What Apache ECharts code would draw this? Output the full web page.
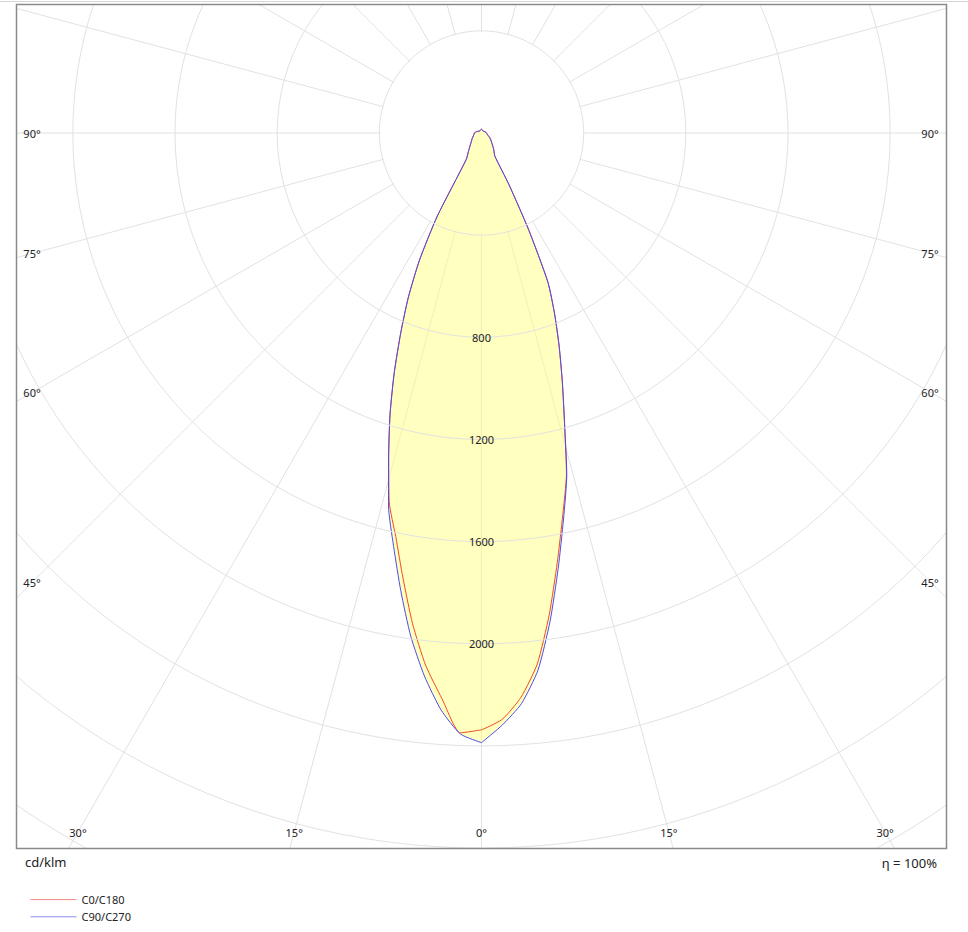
<!DOCTYPE html>
<html>
<head>
<meta charset="utf-8">
<script src="https://cdn.jsdelivr.net/npm/echarts@6/dist/echarts.min.js"></script>
<style>
html,body{margin:0;padding:0;background:#fff;}
#chart{width:968px;height:932px;}
</style>
</head>
<body>
<div id="chart"></div>
<script>
// ---- data (cd/klm) ----
const gammaAngles = [0,2,4,6,8,10,12,14,16,18,20,22,24,26,28,30,35,40,45,50,60,70,80,90,105,120,135,150,165,180];
const c0Values   = [2337,2298,2215,2090,1905,1708,1530,1375,1178,1023,888,763,638,418,228,104,85,70,58,50,38,27,22,20,16,12,10,10,12,15];
const c180Values = [2337,2350,2220,2095,1940,1770,1615,1492,1318,1158,998,843,703,553,368,118,90,72,60,52,42,34,30,28,20,14,11,11,13,15];
const c90Values  = [2387,2320,2240,2115,1930,1730,1545,1380,1180,1025,890,765,640,420,230,105,85,70,58,50,38,27,22,20,16,12,10,10,12,15];
const c270Values = [2387,2355,2265,2138,1990,1820,1655,1505,1320,1160,1000,845,705,555,370,120,90,72,60,52,42,34,30,28,20,14,11,11,13,15];
const seriesNames = ['C0/C180','C90/C270'];
const ringLabels = [800,1200,1600,2000];
const sideAngleLabels = [90,75,60,45];
const bottomAngleLabels = [30,15,0];
const unitText = 'cd/klm';
const etaText = 'η = 100%';

// ---- layout ----
const W = 968, H = 932;
const frame = {x0:16, y0:4, x1:946, y1:848};
const cx = 481.5, cy = 133;
const pxPerCd = 0.2554;
const rMax = 3600;
const FONT = '"Noto Sans", "Liberation Sans", sans-serif';

function buildPlane(leftVals, rightVals) {
  const d = [];
  for (let i = 0; i < gammaAngles.length; i++) d.push([leftVals[i], gammaAngles[i]]);
  for (let i = gammaAngles.length - 1; i >= 0; i--) d.push([rightVals[i], 360 - gammaAngles[i]]);
  return d;
}

const chart = echarts.init(document.getElementById('chart'), null, {renderer:'svg', width:W, height:H});

const graphics = [];
// white disc hiding spokes inside the innermost ring
graphics.push({type:'circle', z:1, silent:true, shape:{cx:cx, cy:cy, r:400*pxPerCd - 0.9}, style:{fill:'#fff'}});
// masks outside the frame
const maskStyle = {fill:'#fff'};
graphics.push({type:'rect', z:5, silent:true, shape:{x:0, y:0, width:W, height:frame.y0}, style:maskStyle});
graphics.push({type:'rect', z:5, silent:true, shape:{x:0, y:frame.y1, width:W, height:H-frame.y1}, style:maskStyle});
graphics.push({type:'rect', z:5, silent:true, shape:{x:0, y:0, width:frame.x0, height:H}, style:maskStyle});
graphics.push({type:'rect', z:5, silent:true, shape:{x:frame.x1, y:0, width:W-frame.x1, height:H}, style:maskStyle});
// top thin line
graphics.push({type:'line', z:6, silent:true, shape:{x1:0, y1:1.5, x2:W, y2:1.5}, style:{stroke:'#d6d6d6', lineWidth:1}});
// frame
graphics.push({type:'rect', z:6, silent:true, shape:{x:frame.x0+0.5, y:frame.y0+0.5, width:frame.x1-frame.x0, height:frame.y1-frame.y0},
  style:{fill:'none', stroke:'#8a8a8a', lineWidth:1.5}});

const labStyle = {fontSize:11, fontFamily:FONT, fill:'#222', align:'center', verticalAlign:'middle'};
// angle labels along the frame
const inset = 16;
sideAngleLabels.forEach(a => {
  const dx = (cx - frame.x0) - inset;
  const y = cy + dx / Math.tan(a * Math.PI / 180);
  graphics.push({type:'text', z:7, silent:true, x:frame.x0 + inset, y:y, style:Object.assign({text:a+'°'}, labStyle)});
  graphics.push({type:'text', z:7, silent:true, x:frame.x1 - inset, y:y, style:Object.assign({text:a+'°'}, labStyle)});
});
bottomAngleLabels.forEach(a => {
  const y = frame.y1 - inset;
  const dx = (y - cy) * Math.tan(a * Math.PI / 180);
  graphics.push({type:'text', z:7, silent:true, x:cx - dx, y:y, style:Object.assign({text:a+'°'}, labStyle)});
  if (a !== 0) graphics.push({type:'text', z:7, silent:true, x:cx + dx, y:y, style:Object.assign({text:a+'°'}, labStyle)});
});
graphics.push({type:'text', z:7, silent:true, x:25, y:862, style:{text:unitText, fontSize:13, fontFamily:FONT, fill:'#222', align:'left', verticalAlign:'middle'}});
graphics.push({type:'text', z:7, silent:true, x:937, y:863, style:{text:etaText, fontSize:13, fontFamily:FONT, fill:'#222', align:'right', verticalAlign:'middle'}});

const option = {
  backgroundColor:'#fff',
  animation:false,
  polar:{center:[cx, cy], radius: rMax * pxPerCd},
  angleAxis:{
    type:'value', min:0, max:360, interval:15, startAngle:-90, clockwise:true, z:0,
    axisLine:{show:false}, axisTick:{show:false}, axisLabel:{show:false},
    splitLine:{show:true, lineStyle:{color:'#e2e2e2', width:1}}
  },
  radiusAxis:{
    type:'value', min:0, max:rMax, interval:400, z:3,
    axisLine:{show:false}, axisTick:{show:false},
    axisLabel:{show:true, margin:0, align:'center', verticalAlign:'middle', fontSize:11, fontFamily:FONT, color:'#222',
      formatter: v => ringLabels.indexOf(v) >= 0 ? String(v) : ''},
    splitLine:{show:true, lineStyle:{color:'#e2e2e2', width:1}}
  },
  legend:{
    orient:'vertical', left:25, top:889, z:10,
    itemWidth:46, itemHeight:14, itemGap:6,
    textStyle:{fontSize:11, fontFamily:FONT, color:'#222'},
    itemStyle:{opacity:0},
    data:[
      {name:seriesNames[0], lineStyle:{color:'#f08a80', width:1}},
      {name:seriesNames[1], lineStyle:{color:'#8a8af0', width:1}}
    ]
  },
  graphic: graphics,
  series:[
    {
      name:seriesNames[0], type:'line', coordinateSystem:'polar', z:2,
      symbol:'none', smooth:0.2,
      lineStyle:{color:'#f04a28', width:1},
      itemStyle:{color:'#f04a28'},
      data: buildPlane(c180Values, c0Values)
    },
    {
      name:seriesNames[1], type:'line', coordinateSystem:'polar', z:2,
      symbol:'none', smooth:0.2,
      lineStyle:{color:'#4b4bf5', width:1},
      itemStyle:{color:'#4b4bf5'},
      areaStyle:{color:'rgba(255,255,128,0.5)', opacity:1},
      data: buildPlane(c270Values, c90Values)
    }
  ]
};
chart.setOption(option);
</script>
</body>
</html>
